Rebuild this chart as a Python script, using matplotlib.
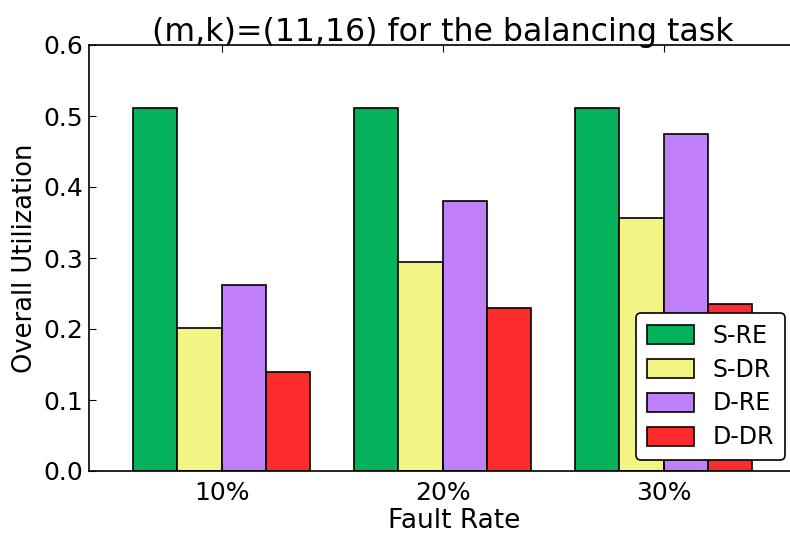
import numpy as np
import matplotlib
matplotlib.use('Agg')
import matplotlib.pyplot as plt

rates = ['10%', '20%', '30%']
series = ['S-RE', 'S-DR', 'D-RE', 'D-DR']
s_re = [0.511, 0.511, 0.511]
s_dr = [0.202, 0.294, 0.356]
d_re = [0.262, 0.380, 0.474]
d_dr = [0.140, 0.230, 0.235]
colors = ['#05b25c', '#f2f584', '#bf80f8', '#fe2b2d']

fig = plt.figure(figsize=(7.9, 5.36), dpi=100)
# axes run a little past the right edge of the figure
ax = fig.add_axes([89 / 790, 65 / 536, 730 / 790, 426 / 536])

x = np.arange(len(rates))
width = 0.2
for i, (vals, name) in enumerate(zip([s_re, s_dr, d_re, d_dr], series)):
    ax.bar(x - 0.4 + i * width, vals, width, align='edge', color=colors[i],
           edgecolor='black', linewidth=1.2, label=name)

ax.set_xlim(-0.6, -0.6 + 730 / 221)
ax.set_ylim(0, 0.6)
ax.set_xticks(x)
ax.set_xticklabels(rates)
ax.set_yticks(np.arange(0, 0.61, 0.1))
ax.set_yticklabels(['%.1f' % v for v in np.arange(0, 0.61, 0.1)])
ax.tick_params(direction='in', top=True, right=True, length=5, labelsize=18)
ax.tick_params(axis='y', pad=4)
ax.tick_params(axis='x', pad=7)
for s in ax.spines.values():
    s.set_linewidth(1.2)

ax.set_xlabel('Fault Rate', fontsize=19, labelpad=2)
ax.set_ylabel('Overall Utilization', fontsize=18.5, labelpad=4)
ax.set_title('(m,k)=(11,16) for the balancing task', fontsize=22.8, pad=3,
             x=(443 - 89) / 730)

leg = ax.legend(loc='lower right', bbox_to_anchor=(785 / 790, (536 - 460) / 536),
                bbox_transform=fig.transFigure,
                fontsize=17, handlelength=2.0, handleheight=0.85, labelspacing=0.42,
                handletextpad=0.8, framealpha=1, edgecolor='black', fancybox=True,
                borderpad=0.45, borderaxespad=0)
leg.get_frame().set_linewidth(1.2)

fig.savefig('out.png', dpi=100)
